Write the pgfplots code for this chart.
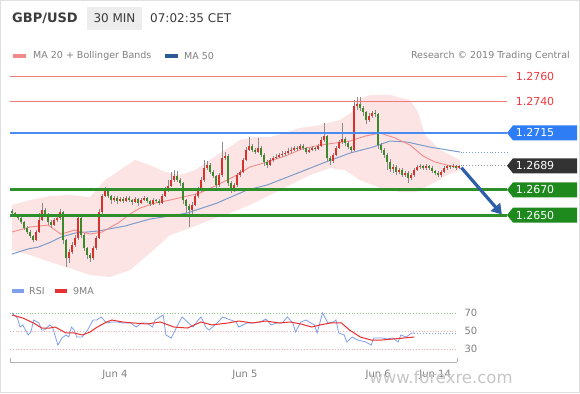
\documentclass[border=0pt]{standalone}
\usepackage{pgfplots}
\pgfplotsset{compat=1.18}
\usepackage{pgfplotstable}
\usetikzlibrary{arrows.meta}
\usepackage{fontspec}
\setmainfont{DejaVu Sans}

\definecolor{candred}{HTML}{D8322C}
\definecolor{candgreen}{HTML}{3A8A2C}
\definecolor{wick}{HTML}{8A8A8A}
\definecolor{bbpink}{HTML}{FDE4E4}
\definecolor{ma20}{HTML}{F28A8A}
\definecolor{ma50}{HTML}{7E9CCB}
\definecolor{ma50dark}{HTML}{2D5A96}
\definecolor{resred}{HTML}{F07A7A}
\definecolor{labred}{HTML}{EE3A3F}
\definecolor{lvlblue}{HTML}{4A8BF0}
\definecolor{tagblue}{HTML}{2F7DF5}
\definecolor{tagdark}{HTML}{333333}
\definecolor{lvlgreen}{HTML}{2F8F2A}
\definecolor{taggreen}{HTML}{1E8A1E}
\definecolor{arrowblue}{HTML}{2C5FA8}
\definecolor{txtgray}{HTML}{808080}
\definecolor{hdr}{HTML}{3C3C3C}
\definecolor{rsiblue}{HTML}{7FA0EA}
\definecolor{rsired}{HTML}{E83030}

\pgfplotstableread{
i o h l c
0 1.26530 1.26550 1.26506 1.26516
1 1.26516 1.26524 1.26492 1.26501
2 1.26501 1.26510 1.26465 1.26477
3 1.26477 1.26489 1.26430 1.26445
4 1.26445 1.26456 1.26382 1.26398
5 1.26398 1.26415 1.26350 1.26366
6 1.26366 1.26380 1.26318 1.26334
7 1.26334 1.26346 1.26287 1.26303
8 1.26303 1.26382 1.26295 1.26366
9 1.26366 1.26520 1.26355 1.26461
10 1.26461 1.26595 1.26452 1.26540
11 1.26540 1.26560 1.26486 1.26501
12 1.26501 1.26513 1.26418 1.26445
13 1.26445 1.26458 1.26395 1.26421
14 1.26421 1.26480 1.26410 1.26461
15 1.26461 1.26495 1.26448 1.26477
16 1.26477 1.26550 1.26465 1.26524
17 1.26524 1.26535 1.26275 1.26303
18 1.26303 1.26315 1.26089 1.26160
19 1.26160 1.26230 1.26125 1.26208
20 1.26208 1.26285 1.26195 1.26263
21 1.26263 1.26340 1.26248 1.26319
22 1.26319 1.26500 1.26305 1.26477
23 1.26477 1.26488 1.26320 1.26342
24 1.26342 1.26355 1.26215 1.26239
25 1.26239 1.26250 1.26155 1.26184
26 1.26184 1.26200 1.26130 1.26160
27 1.26160 1.26258 1.26144 1.26239
28 1.26239 1.26335 1.26225 1.26319
29 1.26319 1.26545 1.26308 1.26524
30 1.26524 1.26670 1.26510 1.26651
31 1.26651 1.26720 1.26640 1.26698
32 1.26698 1.26712 1.26635 1.26651
33 1.26651 1.26662 1.26590 1.26619
34 1.26619 1.26655 1.26605 1.26635
35 1.26635 1.26648 1.26585 1.26611
36 1.26611 1.26645 1.26600 1.26627
37 1.26627 1.26640 1.26598 1.26611
38 1.26611 1.26652 1.26600 1.26635
39 1.26635 1.26650 1.26605 1.26619
40 1.26619 1.26630 1.26580 1.26603
41 1.26603 1.26645 1.26592 1.26627
42 1.26627 1.26638 1.26575 1.26595
43 1.26595 1.26635 1.26585 1.26619
44 1.26619 1.26650 1.26608 1.26635
45 1.26635 1.26645 1.26598 1.26611
46 1.26611 1.26620 1.26570 1.26588
47 1.26588 1.26632 1.26578 1.26619
48 1.26619 1.26630 1.26598 1.26611
49 1.26611 1.26625 1.26580 1.26595
50 1.26595 1.26668 1.26585 1.26651
51 1.26651 1.26720 1.26640 1.26698
52 1.26698 1.26780 1.26685 1.26730
53 1.26730 1.26840 1.26720 1.26777
54 1.26777 1.26856 1.26760 1.26809
55 1.26809 1.26845 1.26765 1.26777
56 1.26777 1.26790 1.26730 1.26754
57 1.26754 1.26765 1.26590 1.26619
58 1.26619 1.26630 1.26520 1.26572
59 1.26572 1.26585 1.26406 1.26540
60 1.26540 1.26600 1.26500 1.26580
61 1.26580 1.26670 1.26570 1.26651
62 1.26651 1.26720 1.26638 1.26698
63 1.26698 1.26800 1.26685 1.26777
64 1.26777 1.26936 1.26765 1.26872
65 1.26872 1.26925 1.26855 1.26896
66 1.26896 1.26910 1.26825 1.26841
67 1.26841 1.26855 1.26790 1.26809
68 1.26809 1.26820 1.26705 1.26738
69 1.26738 1.26835 1.26725 1.26817
70 1.26817 1.27078 1.26805 1.26951
71 1.26951 1.27000 1.26935 1.26967
72 1.26967 1.26980 1.26730 1.26754
73 1.26754 1.26768 1.26675 1.26698
74 1.26698 1.26755 1.26680 1.26738
75 1.26738 1.26835 1.26725 1.26817
76 1.26817 1.26860 1.26800 1.26841
77 1.26841 1.26955 1.26830 1.26936
78 1.26936 1.27040 1.26925 1.27015
79 1.27015 1.27117 1.27005 1.27046
80 1.27046 1.27060 1.27000 1.27015
81 1.27015 1.27030 1.26985 1.26999
82 1.26999 1.27110 1.26988 1.27030
83 1.27030 1.27045 1.26958 1.26975
84 1.26975 1.26988 1.26890 1.26920
85 1.26920 1.26935 1.26870 1.26896
86 1.26896 1.26950 1.26885 1.26936
87 1.26936 1.26970 1.26920 1.26951
88 1.26951 1.26980 1.26940 1.26959
89 1.26959 1.26995 1.26948 1.26975
90 1.26975 1.27005 1.26960 1.26983
91 1.26983 1.27010 1.26970 1.26991
92 1.26991 1.27030 1.26980 1.27007
93 1.27007 1.27040 1.26995 1.27015
94 1.27015 1.27050 1.27005 1.27030
95 1.27030 1.27045 1.27008 1.27023
96 1.27023 1.27065 1.27012 1.27046
97 1.27046 1.27060 1.27015 1.27030
98 1.27030 1.27040 1.26985 1.26999
99 1.26999 1.27030 1.26990 1.27015
100 1.27015 1.27050 1.27005 1.27030
101 1.27030 1.27042 1.27008 1.27023
102 1.27023 1.27065 1.27015 1.27046
103 1.27046 1.27115 1.27035 1.27094
104 1.27094 1.27228 1.27080 1.27125
105 1.27125 1.27135 1.26928 1.26951
106 1.26951 1.26965 1.26900 1.26928
107 1.26928 1.26990 1.26915 1.26975
108 1.26975 1.27050 1.26965 1.27030
109 1.27030 1.27095 1.27020 1.27078
110 1.27078 1.27228 1.27065 1.27102
111 1.27102 1.27115 1.27050 1.27070
112 1.27070 1.27085 1.27020 1.27038
113 1.27038 1.27050 1.26995 1.27015
114 1.27015 1.27410 1.27005 1.27363
115 1.27363 1.27434 1.27330 1.27379
116 1.27379 1.27434 1.27325 1.27347
117 1.27347 1.27365 1.27285 1.27315
118 1.27315 1.27325 1.27220 1.27252
119 1.27252 1.27305 1.27235 1.27284
120 1.27284 1.27325 1.27270 1.27307
121 1.27307 1.27330 1.27275 1.27299
122 1.27299 1.27310 1.27020 1.27054
123 1.27054 1.27070 1.26990 1.27015
124 1.27015 1.27030 1.26950 1.26975
125 1.26975 1.26990 1.26860 1.26920
126 1.26920 1.26940 1.26840 1.26865
127 1.26865 1.26905 1.26833 1.26880
128 1.26880 1.26895 1.26820 1.26841
129 1.26841 1.26875 1.26825 1.26856
130 1.26856 1.26870 1.26800 1.26817
131 1.26817 1.26850 1.26800 1.26833
132 1.26833 1.26845 1.26754 1.26793
133 1.26793 1.26835 1.26780 1.26817
134 1.26817 1.26875 1.26805 1.26856
135 1.26856 1.26900 1.26845 1.26880
136 1.26880 1.26905 1.26865 1.26888
137 1.26888 1.26900 1.26855 1.26872
138 1.26872 1.26905 1.26860 1.26888
139 1.26888 1.26898 1.26858 1.26872
140 1.26872 1.26885 1.26835 1.26849
141 1.26849 1.26860 1.26815 1.26833
142 1.26833 1.26845 1.26800 1.26817
143 1.26817 1.26855 1.26805 1.26841
144 1.26841 1.26888 1.26830 1.26872
145 1.26872 1.26900 1.26860 1.26888
146 1.26888 1.26900 1.26865 1.26880
147 1.26880 1.26905 1.26870 1.26888
148 1.26888 1.26898 1.26860 1.26872
149 1.26872 1.26898 1.26865 1.26888
}\candles

% Bollinger band outline: upper band left to right, then lower band right to left
\pgfplotstableread{
i v
0 1.26580
6 1.26619
12.7 1.26651
19.3 1.26659
26 1.26643
31 1.26777
36 1.26856
41 1.26936
46 1.26896
51 1.26841
56 1.26817
61 1.26856
66 1.26936
71 1.27015
76 1.27094
81 1.27117
86 1.27117
91 1.27149
96 1.27189
102.7 1.27212
109.3 1.27252
113.3 1.27315
115 1.27410
119.3 1.27450
126 1.27450
132.7 1.27410
135.3 1.27315
137.7 1.27133
142.7 1.27015
149.3 1.26936
149.3 1.26856
145 1.26817
141 1.26761
135 1.26682
129.3 1.26682
122.7 1.26714
116 1.26777
111 1.26856
106 1.26872
99.3 1.26817
92.7 1.26738
86 1.26659
79.3 1.26580
72.7 1.26516
66 1.26461
59.3 1.26398
52.7 1.26342
46 1.26200
39.3 1.26065
32.7 1.26010
26 1.26026
19.3 1.26081
12.7 1.26129
6 1.26184
0 1.26224
}\bband

\pgfplotstableread{
i v
0 1.26366
6 1.26406
12 1.26421
16.3 1.26350
21 1.26382
26 1.26350
30 1.26366
35.3 1.26437
39.3 1.26508
42.7 1.26556
47.7 1.26595
52.7 1.26619
57 1.26643
62.7 1.26675
67.7 1.26730
73.7 1.26801
79.3 1.26880
85 1.26920
91 1.26967
96.7 1.27023
102.7 1.27054
107.7 1.27070
112.7 1.27086
117.7 1.27125
122.7 1.27149
127.7 1.27110
132.7 1.27054
137 1.26967
141 1.26920
145 1.26896
149.3 1.26880
}\matwenty

\pgfplotstableread{
i v
0 1.26192
5.3 1.26232
8.7 1.26247
13 1.26287
16.3 1.26326
21 1.26358
28.7 1.26374
37.7 1.26414
46 1.26469
52.7 1.26493
58.3 1.26516
68.3 1.26595
78.3 1.26698
85 1.26738
92.7 1.26809
103.7 1.26912
112.7 1.26991
120.3 1.27038
126 1.27086
131.7 1.27078
139.3 1.27038
149.3 1.26999
}\mafifty

\pgfplotstableread{
i v
0 70
2 64.4
3 54.4
4 56.7
6 45.6
7 48.9
8 62.2
10 58.9
11 51.1
12 51.1
14 56.7
15 54.4
17 34.4
18.5 42.2
20 45.6
21 43.3
22 54.4
23 51.1
24 43.3
26 43.3
28 51.1
30 62.2
31.5 62.2
33 65.6
34 62.2
35 58.9
37 60
39 60
41 58.9
43 58.9
44 58.9
46 54.4
48 58.9
50 58.9
52 54.4
53 62.2
56 67.8
57 45.6
59 42.2
61 54.4
63 65.6
65 60
67 54.4
69 62.2
70 65.6
72 53.3
73 51.1
76 58.9
78 65.6
81 62.2
83 60
84 54.4
87 58.9
89 58.9
92 60
94 63.3
96 56.7
98 58.9
100 58.9
102 65.6
104 58.9
105 48.9
107 60
109 62.2
110 60
112 56.7
113 47.8
115 70
117 58.9
119 60
120 62.2
121 47.8
123 45.6
124 37.8
126 43.3
128 40
131 37.8
133 34.4
134 42.2
137 42.2
139 41.1
141 42.2
143 37.8
144 45.6
146 43.3
148 47.8
149 47.8
}\rsi

\pgfplotstableread{
i v
0 67.8
4 64.4
8 58.9
11 53.3
14 53.3
16 54.4
20 47.8
23 47.8
26 45.6
29 48.9
31 53.3
35 60
37 62.2
41 60
45 58.9
50 57.8
55 60
60 54.4
65 53.3
70 60
74 56.7
80 58.9
84 61.1
89 58.9
94 61.1
99 58.9
103 60
107 57.8
111 54.4
114 56.7
118 58.9
122 58.9
125 51.1
129 43.3
133 40
137 40
141 41.1
145 42.2
149 43.3
}\rsima

\begin{document}
\begin{tikzpicture}[x=1pt,y=1pt]
\fill[white] (0,0) rectangle (580,393);
\draw[gray!25, line width=1pt] (0.5,0.5) rectangle (579.5,392.5);

% header
\node[anchor=west, inner sep=0pt, font=\bfseries\fontsize{13}{15}\selectfont, text=hdr] at (12,375) {GBP/USD};
\fill[gray!14] (87,363) rectangle (142,386);
\node[font=\fontsize{12}{14}\selectfont, text=hdr] at (114.5,375) {30 MIN};
\node[anchor=west, inner sep=0pt, font=\fontsize{12}{14}\selectfont, text=hdr] at (150,375) {07:02:35 CET};

% legend
\fill[ma20] (13,335) rectangle (26,339);
\node[anchor=west, inner sep=0pt, font=\fontsize{9.5}{11}\selectfont, text=txtgray] at (33,337) {MA 20 + Bollinger Bands};
\fill[ma50dark] (165,335) rectangle (178,339);
\node[anchor=west, inner sep=0pt, font=\fontsize{9.5}{11}\selectfont, text=txtgray] at (184,337) {MA 50};
\node[anchor=east, inner sep=0pt, font=\fontsize{9.5}{11}\selectfont, text=txtgray] at (570,337) {Research © 2019 Trading Central};

\begin{axis}[at={(10pt,111pt)}, anchor=south west, scale only axis,
  width=495pt, height=220pt,
  xmin=-0.6667, xmax=164.3333, ymin=1.25971, ymax=1.27711,
  hide axis, clip=false]
  % Bollinger band
  \addplot[fill=bbpink, draw=none] table[x=i,y=v] {\bband} -- cycle;
  % moving averages
  \addplot[ma50, line width=1pt] table[x=i,y=v] {\mafifty};
  \addplot[ma20, line width=0.9pt] table[x=i,y=v] {\matwenty};
  % wicks
  \addplot[draw=none, mark=none, error bars/.cd, y dir=both, y explicit, error mark=none,
    error bar style={draw=wick, line width=0.7pt}]
    table[x=i, y=c, y error plus expr=\thisrow{h}-\thisrow{c}, y error minus expr=\thisrow{c}-\thisrow{l}] {\candles};
  % up bodies (red)
  \addplot[draw=none, mark=none, restrict expr to domain={\thisrow{c}-\thisrow{o}}{0:1},
    error bars/.cd, y dir=plus, y explicit, error mark=none,
    error bar style={draw=candred, line width=2.2pt}]
    table[x=i, y=o, y error plus expr=\thisrow{c}-\thisrow{o}] {\candles};
  % down bodies (green)
  \addplot[draw=none, mark=none, restrict expr to domain={\thisrow{o}-\thisrow{c}}{0.000001:1},
    error bars/.cd, y dir=plus, y explicit, error mark=none,
    error bar style={draw=candgreen, line width=2.2pt}]
    table[x=i, y=c, y error plus expr=\thisrow{o}-\thisrow{c}] {\candles};
  % level lines
  \addplot[resred, line width=0.8pt] coordinates {(-0.6667,1.2760) (165,1.2760)};
  \addplot[resred, line width=0.8pt] coordinates {(-0.6667,1.2740) (165,1.2740)};
  \addplot[lvlblue, line width=1.6pt] coordinates {(-0.6667,1.2715) (165,1.2715)};
  \addplot[lvlgreen, line width=2.8pt] coordinates {(-0.6667,1.2670) (165,1.2670)};
  \addplot[lvlgreen, line width=2.8pt] coordinates {(-0.6667,1.2650) (165,1.2650)};
  \addplot[gray!80, dotted, line width=0.9pt] coordinates {(149.5,1.2689) (165,1.2689)};
  \addplot[ma50, dotted, line width=0.9pt] coordinates {(149.5,1.26999) (165,1.26999)};
  % forecast arrow
  \draw[arrowblue, line width=3.2pt, -{Triangle[length=10pt, width=12pt]}]
    (axis cs:149.8,1.26875) -- (axis cs:163.3,1.26505);
  % labels
  \node[text=labred, font=\fontsize{11}{13}\selectfont, xshift=28pt] at (axis cs:165,1.2760) {1.2760};
  \node[text=labred, font=\fontsize{11}{13}\selectfont, xshift=28pt] at (axis cs:165,1.2740) {1.2740};
  \fill[tagblue] (axis cs:165,1.2715) -- ++(6pt,7.5pt) -- ++(64pt,0pt) -- ++(0pt,-15pt) -- ++(-64pt,0pt) -- cycle;
  \node[text=white, font=\fontsize{11}{13}\selectfont, xshift=28pt] at (axis cs:165,1.2715) {1.2715};
  \fill[tagdark] (axis cs:165,1.2689) -- ++(6pt,7.5pt) -- ++(64pt,0pt) -- ++(0pt,-15pt) -- ++(-64pt,0pt) -- cycle;
  \node[text=white, font=\fontsize{11}{13}\selectfont, xshift=28pt] at (axis cs:165,1.2689) {1.2689};
  \fill[taggreen] (axis cs:165,1.2670) -- ++(6pt,7.5pt) -- ++(64pt,0pt) -- ++(0pt,-15pt) -- ++(-64pt,0pt) -- cycle;
  \node[text=white, font=\fontsize{11}{13}\selectfont, xshift=28pt] at (axis cs:165,1.2670) {1.2670};
  \fill[taggreen] (axis cs:165,1.2650) -- ++(6pt,7.5pt) -- ++(64pt,0pt) -- ++(0pt,-15pt) -- ++(-64pt,0pt) -- cycle;
  \node[text=white, font=\fontsize{11}{13}\selectfont, xshift=28pt] at (axis cs:165,1.2650) {1.2650};
\end{axis}

% RSI legend
\fill[rsiblue] (12,100) rectangle (24,104);
\node[anchor=west, inner sep=0pt, font=\fontsize{9.5}{11}\selectfont, text=txtgray] at (29,102) {RSI};
\fill[rsired] (55,100) rectangle (67,104);
\node[anchor=west, inner sep=0pt, font=\fontsize{9.5}{11}\selectfont, text=txtgray] at (73,102) {9MA};

\begin{axis}[at={(10pt,31pt)}, anchor=south west, scale only axis,
  width=447pt, height=62pt,
  xmin=-0.741, xmax=164.81, ymin=15.56, ymax=84.44,
  axis x line=bottom, axis y line=right,
  x axis line style={-, draw=gray!60, line width=0.9pt},
  y axis line style={draw=none},
  major tick length=0pt,
  xtick={38.1,86.3,135.6,156.7},
  xticklabels={Jun 4,Jun 5,Jun 6,Jun 14},
  ytick={30,50,70},
  tick label style={font=\fontsize{10}{12}\selectfont, text=txtgray},
  xticklabel style={anchor=base, yshift=-15.5pt},
  yticklabel style={anchor=west, xshift=4pt},
  /pgf/number format/assume math mode=true,
  clip=false]
  \draw[dotted, line width=0.8pt, green!40!gray!70] (axis cs:-0.741,70) -- (axis cs:164.81,70);
  \draw[dotted, line width=0.8pt, red!35] (axis cs:-0.741,50) -- (axis cs:164.81,50);
  \draw[dotted, line width=0.8pt, red!35] (axis cs:-0.741,30) -- (axis cs:164.81,30);
  \draw[gray!60, line width=0.9pt] (axis cs:-0.741,15.56) -- ++(0pt,4pt);
  \draw[gray!60, line width=0.9pt] (axis cs:164.81,15.56) -- ++(0pt,4pt);
  \addplot[rsiblue, line width=0.8pt] table[x=i,y=v] {\rsi};
  \addplot[rsiblue, dotted, line width=0.9pt] coordinates {(149,47.8) (164.81,47.8)};
  \addplot[rsired, line width=1pt] table[x=i,y=v] {\rsima};
\end{axis}

\node[text=gray!45, font=\fontsize{16.5}{18}\selectfont] at (441,16) {www.forexre.com};
\pgfresetboundingbox
\path[use as bounding box] (0,0) rectangle (580,393);
\end{tikzpicture}
\end{document}
